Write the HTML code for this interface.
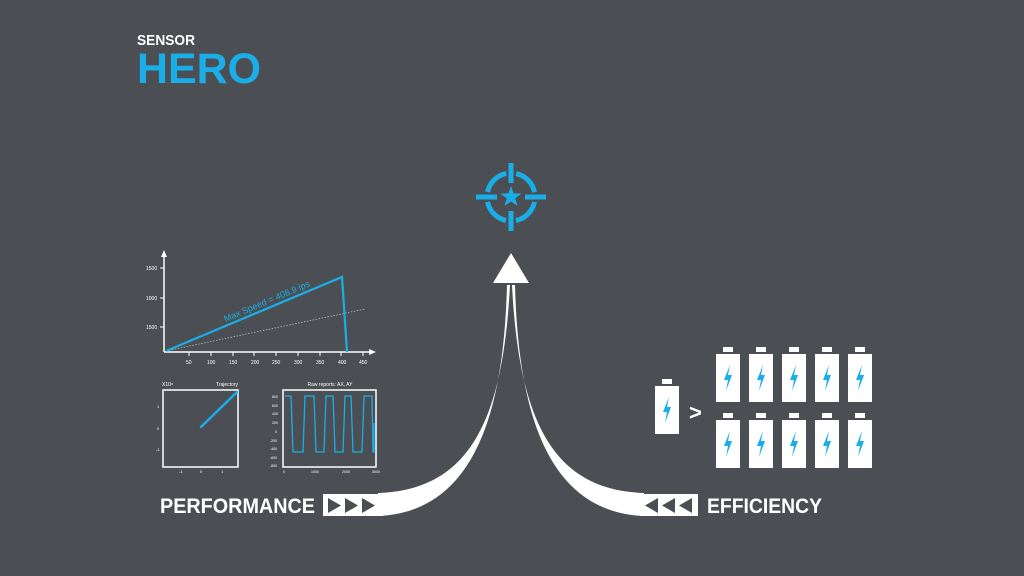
<!DOCTYPE html>
<html><head><meta charset="utf-8"><style>
html,body{margin:0;padding:0;background:#4b4f53;}
svg{display:block}
text{font-family:"Liberation Sans",sans-serif}
</style></head><body>
<svg width="1024" height="576" viewBox="0 0 1024 576" xmlns="http://www.w3.org/2000/svg">
<rect width="1024" height="576" fill="#4b4f53"/>
<!-- Logo -->
<text x="137" y="45" fill="#fff" font-size="15" font-weight="bold" textLength="58" lengthAdjust="spacingAndGlyphs">SENSOR</text>
<text x="137" y="83" fill="#1aaee8" font-size="43" font-weight="bold" textLength="124" lengthAdjust="spacingAndGlyphs">HERO</text>

<!-- target icon -->
<g stroke="#1aaee8" stroke-width="5" fill="none">
<circle cx="511" cy="197" r="24" stroke-dasharray="27.7 10" stroke-dashoffset="-5"/>
<line x1="476" y1="197" x2="497" y2="197"/>
<line x1="525" y1="197" x2="546" y2="197"/>
<line x1="511" y1="163" x2="511" y2="183"/>
<line x1="511" y1="211" x2="511" y2="231"/>
</g>
<polygon fill="#1aaee8" points="511,186 513.6,193.4 521.5,193.6 515.2,198.4 517.5,206 511,201.5 504.5,206 506.8,198.4 500.5,193.6 508.4,193.4"/>

<!-- arrow -->
<polygon fill="#fff" points="511,253 529,283 493,283"/>
<path fill="#fff" d="M507 285 C504 400 480 512 378 516 L378 493 C470 490 503 420 510 285 Z"/>
<path fill="#fff" d="M515 285 C518 400 542 512 644 516 L644 493 C552 490 519 420 512 285 Z"/>

<!-- Performance box -->
<rect x="323" y="494" width="60" height="22" fill="#fff"/>
<g fill="#4b4f53">
<polygon points="328,498 341,505.5 328,513"/>
<polygon points="345,498 358,505.5 345,513"/>
<polygon points="362,498 375,505.5 362,513"/>
</g>
<text x="160" y="513" fill="#fff" font-size="21" font-weight="bold" textLength="155" lengthAdjust="spacingAndGlyphs">PERFORMANCE</text>

<!-- Efficiency box -->
<rect x="640" y="494" width="58" height="22" fill="#fff"/>
<g fill="#4b4f53">
<polygon points="658,498 645,505.5 658,513"/>
<polygon points="675,498 662,505.5 675,513"/>
<polygon points="692,498 679,505.5 692,513"/>
</g>
<text x="707" y="513" fill="#fff" font-size="21" font-weight="bold" textLength="115" lengthAdjust="spacingAndGlyphs">EFFICIENCY</text>

<!-- batteries -->
<defs>
<g id="bat">
<rect x="7" y="0" width="10" height="5" fill="#fff"/>
<rect x="0" y="7" width="24" height="48" fill="#fff"/>
<polygon fill="#1aaee8" points="14,18 8,33 12,33 10,44 16,28 12,28"/>
</g>
</defs>
<use href="#bat" x="655" y="379"/>
<text x="689" y="420" fill="#fff" font-size="22" font-weight="bold">&gt;</text>
<use href="#bat" x="716" y="347"/><use href="#bat" x="749" y="347"/><use href="#bat" x="782" y="347"/><use href="#bat" x="815" y="347"/><use href="#bat" x="848" y="347"/>
<use href="#bat" x="716" y="413"/><use href="#bat" x="749" y="413"/><use href="#bat" x="782" y="413"/><use href="#bat" x="815" y="413"/><use href="#bat" x="848" y="413"/>

<!-- main chart -->
<g stroke="#fff" stroke-width="1.5" fill="none">
<line x1="164" y1="352" x2="164" y2="255"/>
<line x1="164" y1="352" x2="371" y2="352"/>
</g>
<polygon fill="#fff" points="164,250 161,257 167,257"/>
<polygon fill="#fff" points="376,352 369,349 369,355"/>
<g fill="#fff" font-size="5">
<text x="146" y="270">1500</text><text x="146" y="300">1000</text><text x="146" y="329">1500</text>
<text x="186" y="364">50</text><text x="207" y="364">100</text><text x="229" y="364">150</text><text x="251" y="364">200</text><text x="272" y="364">250</text><text x="294" y="364">300</text><text x="316" y="364">350</text><text x="338" y="364">400</text><text x="359" y="364">450</text>
</g>
<g stroke="#fff" stroke-width="1">
<line x1="160" y1="268" x2="164" y2="268"/><line x1="160" y1="298" x2="164" y2="298"/><line x1="160" y1="327" x2="164" y2="327"/>
<line x1="189" y1="352" x2="189" y2="356"/><line x1="211" y1="352" x2="211" y2="356"/><line x1="233" y1="352" x2="233" y2="356"/><line x1="254" y1="352" x2="254" y2="356"/><line x1="276" y1="352" x2="276" y2="356"/><line x1="298" y1="352" x2="298" y2="356"/><line x1="320" y1="352" x2="320" y2="356"/><line x1="341" y1="352" x2="341" y2="356"/><line x1="363" y1="352" x2="363" y2="356"/>
</g>
<line x1="166" y1="351" x2="365" y2="309" stroke="#bbb" stroke-width="0.8" stroke-dasharray="1.5 1.5"/>
<polyline points="166,351 342,277 347,352" fill="none" stroke="#1aaee8" stroke-width="2.2"/>
<text x="268" y="304" fill="#1aaee8" font-size="9" text-anchor="middle" transform="rotate(-23 268 304)">Max Speed = 408.9 ips</text>

<!-- chart 2 trajectory -->
<rect x="163" y="390" width="75" height="77" fill="none" stroke="#fff" stroke-width="1.5"/>
<text x="162" y="386" fill="#fff" font-size="5">X10⁸</text>
<text x="238" y="386" fill="#fff" font-size="5" text-anchor="end">Trajectory</text>
<line x1="201" y1="427" x2="237" y2="392" stroke="#1aaee8" stroke-width="2.5" stroke-linecap="round"/>
<g fill="#fff" font-size="4"><text x="157" y="408">1</text><text x="157" y="430">0</text><text x="156" y="451">-1</text><text x="179" y="473">-1</text><text x="200" y="473">0</text><text x="221" y="473">1</text></g>

<!-- chart 3 raw -->
<rect x="283" y="390" width="93" height="77" fill="none" stroke="#fff" stroke-width="1.5"/>
<text x="330" y="386" fill="#fff" font-size="5" text-anchor="middle">Raw reports: AX, AY</text>
<polyline fill="none" stroke="#1aaee8" stroke-width="1.3" points="285,396 291,396 293,452 303,452 305,396 314,396 316,452 324,452 326,396 333,396 335,452 343,452 345,396 351,396 353,452 362,452 364,396 372,396 373,452 374,452 374,423"/>
<g fill="#fff" font-size="3.5"><text x="272" y="398">800</text><text x="272" y="407">600</text><text x="272" y="415">400</text><text x="272" y="424">200</text><text x="275" y="433">0</text><text x="270" y="442">-200</text><text x="270" y="450">-400</text><text x="270" y="459">-600</text><text x="270" y="467">-800</text><text x="283" y="473">0</text><text x="311" y="473">1000</text><text x="342" y="473">2000</text><text x="372" y="473">3000</text></g>
</svg>
</body></html>
